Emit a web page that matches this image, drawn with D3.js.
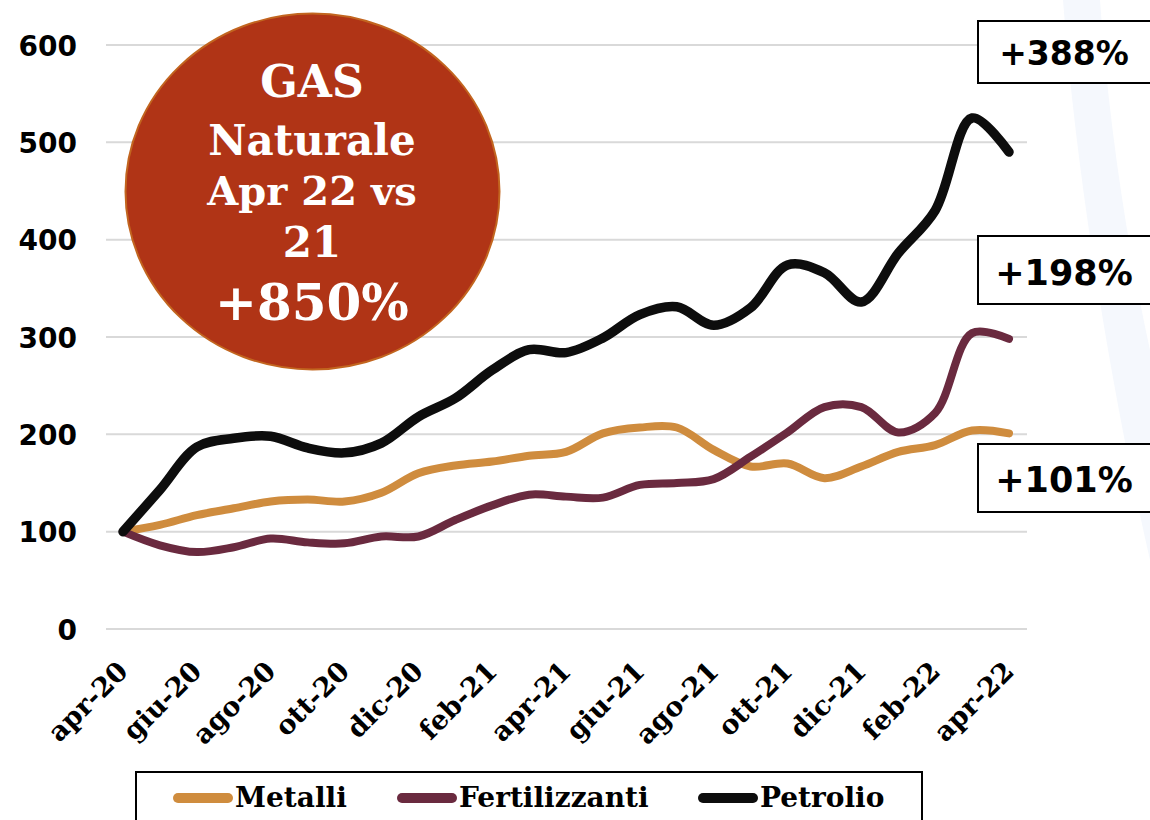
<!DOCTYPE html>
<html>
<head>
<meta charset="utf-8">
<script src="https://cdn.jsdelivr.net/npm/d3@7"></script>
<style>
  html, body { margin: 0; padding: 0; background: #fff; }
  svg { display: block; }
</style>
</head>
<body>
<svg id="chart" width="1150" height="820"></svg>
<script>
// ---------- DATA ----------
const months = ["apr-20","mag-20","giu-20","lug-20","ago-20","set-20","ott-20","nov-20","dic-20","gen-21",
  "feb-21","mar-21","apr-21","mag-21","giu-21","lug-21","ago-21","set-21","ott-21","nov-21",
  "dic-21","gen-22","feb-22","mar-22","apr-22"];
const tickLabels = ["apr-20","giu-20","ago-20","ott-20","dic-20","feb-21","apr-21","giu-21","ago-21","ott-21","dic-21","feb-22","apr-22"];
const metalli = [100,107,117,124,131,133,131,140,160,168,172,178,182,201,207,207,184,167,170,155,167,182,189,204,201];
const fertilizzanti = [100,86,79,84,93,89,88,95,95,112,127,138,136,135,148,150,154,177,202,228,228,202,222,304,298];
const petrolio = [100,143,187,196,198,186,181,191,218,237,266,287,284,299,323,331,312,330,374,366,336,386,430,525,490];
const seriesNames = ["Metalli","Fertilizzanti","Petrolio"];
const yTicks = [0,100,200,300,400,500,600];
const boxLabels = ["+388%","+198%","+101%"];
const bubbleLines = ["GAS","Naturale","Apr 22 vs","21","+850%"];

// ---------- SETUP ----------
const svg = d3.select("#chart");
const colors = { Metalli: "#CF8C3E", Fertilizzanti: "#6A2A3F", Petrolio: "#0D0D0D" };
const widths = { Metalli: 8, Fertilizzanti: 8, Petrolio: 9.5 };
const seriesData = { Metalli: metalli, Fertilizzanti: fertilizzanti, Petrolio: petrolio };

const x = d3.scalePoint().domain(months).range([123, 1009]);
const y = d3.scaleLinear().domain([0, 600]).range([629, 45]);

// decorative background band (slide element)
svg.append("path")
  .attr("d", "M1063,0 L1100,0 C1108,120 1128,250 1150,350 L1150,560 C1118,420 1078,200 1063,0 Z")
  .attr("fill", "#F5F8FD");

// gridlines
svg.append("g").selectAll("line").data(yTicks).join("line")
  .attr("x1", 106).attr("x2", 1027)
  .attr("y1", d => y(d)).attr("y2", d => y(d))
  .attr("stroke", "#D9D9D9").attr("stroke-width", 2);

// y axis labels
const yAxis = d3.axisLeft(y).tickValues(yTicks).tickSize(0).tickPadding(0);
const yg = svg.append("g").attr("transform", "translate(77,0)").call(yAxis);
yg.select(".domain").remove();
yg.selectAll("text")
  .attr("font-family", "'DejaVu Sans', Verdana, sans-serif")
  .attr("font-weight", "bold")
  .attr("font-size", 28)
  .attr("fill", "#000")
  .attr("dy", "0.36em");

// x axis labels
const xAxis = d3.axisBottom(x).tickValues(tickLabels).tickSize(0).tickPadding(0);
const xg = svg.append("g").attr("transform", "translate(0,629)").call(xAxis);
xg.select(".domain").remove();
xg.selectAll("text")
  .attr("font-family", "'DejaVu Serif', serif")
  .attr("font-weight", "bold")
  .attr("font-size", 27)
  .attr("fill", "#000")
  .attr("text-anchor", "end")
  .attr("dy", 0)
  .attr("y", 0)
  .attr("transform", "translate(6,44) rotate(-45)");

// bubble
const bubble = svg.append("g");
bubble.append("ellipse")
  .attr("cx", 312.5).attr("cy", 191.5).attr("rx", 187).attr("ry", 178)
  .attr("fill", "#B03416").attr("stroke", "#C2651F").attr("stroke-width", 2);
const bubbleY = [97, 155, 205, 257, 320];
const bubbleSize = [44, 42, 40, 42, 50];
bubble.selectAll("text").data(bubbleLines).join("text")
  .attr("x", 312).attr("y", (d, i) => bubbleY[i])
  .attr("text-anchor", "middle")
  .attr("font-family", "'DejaVu Serif', serif")
  .attr("font-weight", "bold")
  .attr("font-size", (d, i) => bubbleSize[i])
  .attr("fill", "#fff")
  .text(d => d);

// lines
const line = d3.line()
  .x((d, i) => x(months[i]))
  .y(d => y(d))
  .curve(d3.curveCatmullRom.alpha(0.5));

svg.append("g").selectAll("path").data(seriesNames).join("path")
  .attr("d", n => line(seriesData[n]))
  .attr("fill", "none")
  .attr("stroke", n => colors[n])
  .attr("stroke-width", n => widths[n])
  .attr("stroke-linecap", "round")
  .attr("stroke-linejoin", "round");

// right boxes
const boxY = [21, 236, 444];
const boxH = [62, 68, 68];
const boxTextY = [65, 285, 492];
const boxFont = [33, 35, 35];
const bg = svg.append("g");
boxLabels.forEach((t, i) => {
  bg.append("rect").attr("x", 978).attr("y", boxY[i]).attr("width", 200).attr("height", boxH[i])
    .attr("fill", "#fff").attr("stroke", "#000").attr("stroke-width", 2);
  bg.append("text").attr("x", 1064).attr("y", boxTextY[i])
    .attr("text-anchor", "middle")
    .attr("font-family", "'DejaVu Sans', Verdana, sans-serif")
    .attr("font-weight", "bold")
    .attr("font-size", boxFont[i])
    .attr("fill", "#000")
    .text(t);
});

// legend
const lg = svg.append("g");
lg.append("rect").attr("x", 136).attr("y", 772).attr("width", 786).attr("height", 80)
  .attr("fill", "#fff").attr("stroke", "#000").attr("stroke-width", 2);
const legX = [173, 397, 698];
seriesNames.forEach((n, i) => {
  lg.append("line")
    .attr("x1", legX[i] + 5).attr("x2", legX[i] + 55)
    .attr("y1", 798).attr("y2", 798)
    .attr("stroke", colors[n]).attr("stroke-width", 10).attr("stroke-linecap", "round");
  lg.append("text").attr("x", legX[i] + 62).attr("y", 807)
    .attr("font-family", "'DejaVu Serif', serif")
    .attr("font-weight", "bold")
    .attr("font-size", 28)
    .attr("fill", "#000")
    .text(n);
});
</script>
</body>
</html>
